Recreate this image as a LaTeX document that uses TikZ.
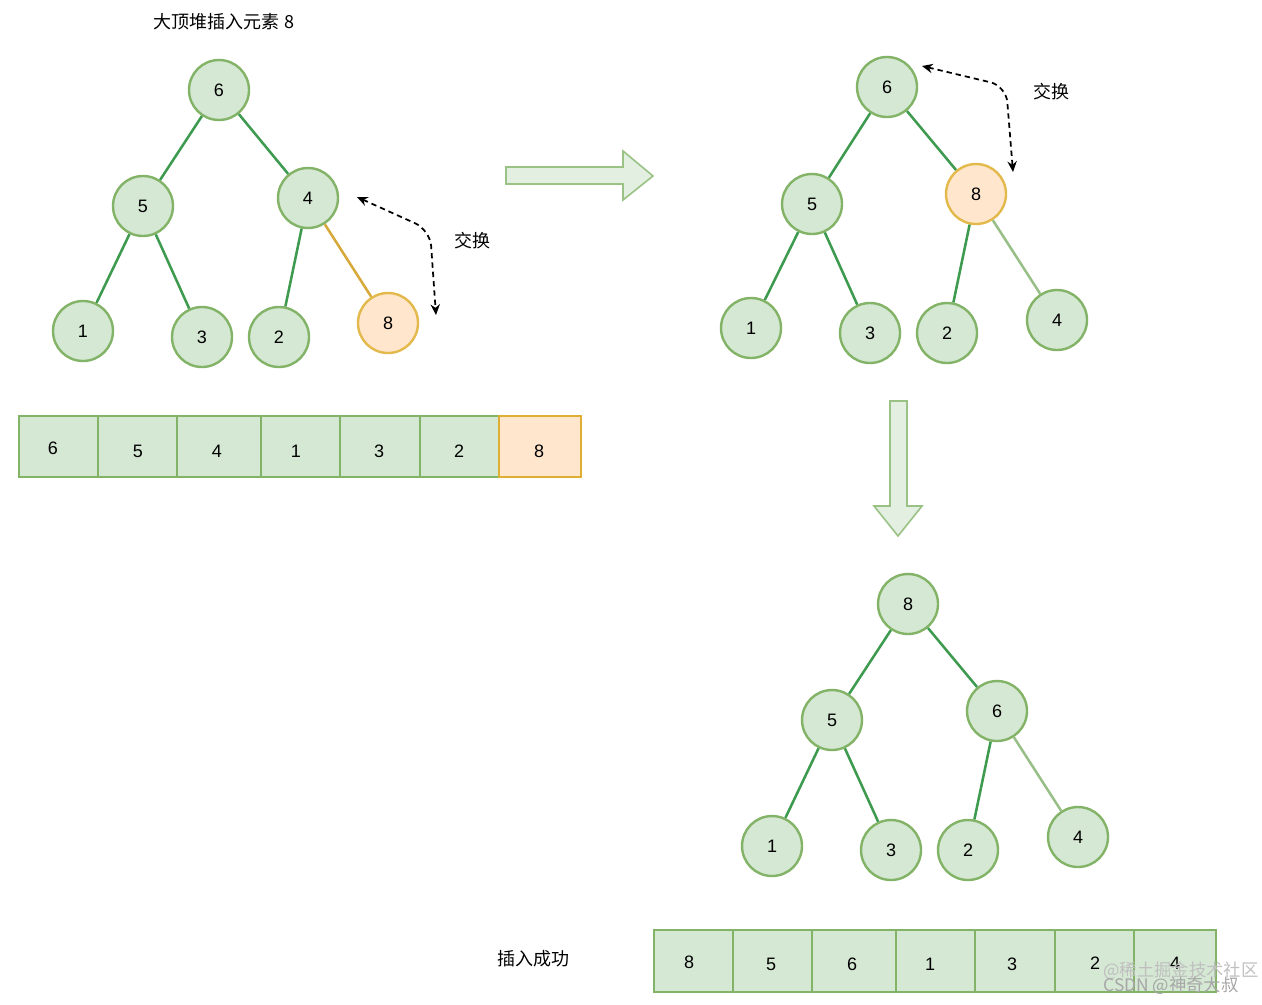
\documentclass[tikz,border=0pt]{standalone}
\usepackage{fontspec}
\setmainfont{Liberation Sans}
\newfontfamily\cjk{Noto Sans CJK SC}
\usetikzlibrary{arrows.meta}
\definecolor{gfill}{HTML}{D5E8D4}
\definecolor{gline}{HTML}{82B366}
\definecolor{ofill}{HTML}{FFE6CC}
\definecolor{oline}{HTML}{D79B00}
\definecolor{edge}{HTML}{3D9A4F}
\definecolor{ledge}{HTML}{97BF87}
\definecolor{oedge}{HTML}{D6A93A}
\begin{document}
\begin{tikzpicture}[x=0.75pt,y=-0.75pt,
  gnode/.style={circle,draw=gline,fill=gfill,line width=1.8pt,minimum size=45pt,inner sep=0pt,font=\fontsize{13.5}{16}\selectfont},
  onode/.style={gnode,draw=oline!70!white,fill=ofill},
  tedge/.style={draw=edge,line width=1.9pt},
  ltedge/.style={draw=ledge,line width=1.9pt},
  otedge/.style={draw=oedge,line width=1.9pt},
  gcell/.style={draw=gline,fill=gfill,line width=1.2pt,inner sep=0pt},
  ocell/.style={gcell,draw=oline!80!white,fill=ofill},
  num/.style={inner sep=0pt,font=\fontsize{13.5}{16}\selectfont},
  lbl/.style={font=\cjk\fontsize{13.5}{16}\selectfont,inner sep=0pt},
  swap/.style={draw=black,dashed,line width=1.3pt,dash pattern=on 4pt off 3pt,{Stealth[length=8pt,width=7pt]}-{Stealth[length=8pt,width=7pt]},rounded corners=12pt},
  blockarrow/.style={draw=gline!80!white,fill=gfill!70!white,line width=1.2pt}
]
\useasboundingbox (0,0) rectangle (1262,1004);

% title
\node[lbl] (title) at (224,22) {大顶堆插入元素 8};

% tree 1
\node[gnode] (a6) at (219,90) {6};
\node[gnode] (a5) at (143,206) {5};
\node[gnode] (a4) at (308,198) {4};
\node[gnode] (a1) at (83,331) {1};
\node[gnode] (a3) at (202,337) {3};
\node[gnode] (a2) at (279,337) {2};
\node[onode] (a8) at (388,323) {8};
\draw[tedge] (a6) -- (a5);
\draw[tedge] (a6) -- (a4);
\draw[tedge] (a5) -- (a1);
\draw[tedge] (a5) -- (a3);
\draw[tedge] (a4) -- (a2);
\draw[otedge] (a4) -- (a8);
\coordinate (s1a) at (357,197);
\coordinate (s1b) at (430,230);
\coordinate (s1c) at (436,315);
\draw[swap] (s1a) -- (s1b) -- (s1c);
\node[lbl] (x1) at (472,241) {交换};

% array 1
\foreach \l/\r [count=\i] in {19/98,98/177,177/261,261/340,340/420,420/499}{
  \node[gcell,minimum width={(\r-\l)*0.75pt},minimum height={61*0.75pt}] (c\i) at ({(\l+\r)/2},446.5) {};
}
\node[ocell,minimum width={82*0.75pt},minimum height={61*0.75pt}] (c7) at (540,446.5) {};
\foreach \x/\y/\t [count=\i] in {53/448/6,138/451/5,217/451/4,296/451/1,379/451/3,459/451/2,539/451/8}{
  \node[num] (ct\i) at (\x,\y) {\t};
}

% right block arrow
\draw[blockarrow] (506,167) -- (623,167) -- (623,151) -- (653,176) -- (623,200) -- (623,184) -- (506,184) -- cycle;

% tree 2
\node[gnode] (b6) at (887,87) {6};
\node[gnode] (b5) at (812,204) {5};
\node[onode] (b8) at (976,194) {8};
\node[gnode] (b1) at (751,328) {1};
\node[gnode] (b3) at (870,333) {3};
\node[gnode] (b2) at (947,333) {2};
\node[gnode] (b4) at (1057,320) {4};
\draw[tedge] (b6) -- (b5);
\draw[tedge] (b6) -- (b8);
\draw[tedge] (b5) -- (b1);
\draw[tedge] (b5) -- (b3);
\draw[tedge] (b8) -- (b2);
\draw[ltedge] (b8) -- (b4);
\coordinate (s2a) at (922,66);
\coordinate (s2b) at (1006,86);
\coordinate (s2c) at (1013,172);
\draw[swap] (s2a) -- (s2b) -- (s2c);
\node[lbl] (x2) at (1051,92) {交换};

% down block arrow
\draw[blockarrow] (890,401) -- (907,401) -- (907,506) -- (922,506) -- (898,536) -- (874,506) -- (890,506) -- cycle;

% tree 3
\node[gnode] (d8) at (908,604) {8};
\node[gnode] (d5) at (832,720) {5};
\node[gnode] (d6) at (997,711) {6};
\node[gnode] (d1) at (772,846) {1};
\node[gnode] (d3) at (891,850) {3};
\node[gnode] (d2) at (968,850) {2};
\node[gnode] (d4) at (1078,837) {4};
\draw[tedge] (d8) -- (d5);
\draw[tedge] (d8) -- (d6);
\draw[tedge] (d5) -- (d1);
\draw[tedge] (d5) -- (d3);
\draw[tedge] (d6) -- (d2);
\draw[ltedge] (d6) -- (d4);

% array 2
\node[lbl] (ok) at (533,959) {插入成功};
\foreach \l/\r [count=\i] in {654/733,733/812,812/896,896/975,975/1055,1055/1134,1134/1216}{
  \node[gcell,minimum width={(\r-\l)*0.75pt},minimum height={62*0.75pt}] (e\i) at ({(\l+\r)/2},961) {};
}
\foreach \x/\y/\t [count=\i] in {689/962/8,771/964/5,852/964/6,930/964/1,1012/964/3,1095/963/2,1175/963/4}{
  \node[num] (et\i) at (\x,\y) {\t};
}

% watermark
\node[font=\cjk\fontsize{13}{15}\selectfont,text=gray!50,inner sep=0pt] (w1) at (1181,971) {@稀土掘金技术社区};
\node[font=\cjk\fontsize{13}{15}\selectfont,text=gray!70,inner sep=0pt] (w2) at (1171,986) {CSDN @神奇大叔};
\end{tikzpicture}
\end{document}
